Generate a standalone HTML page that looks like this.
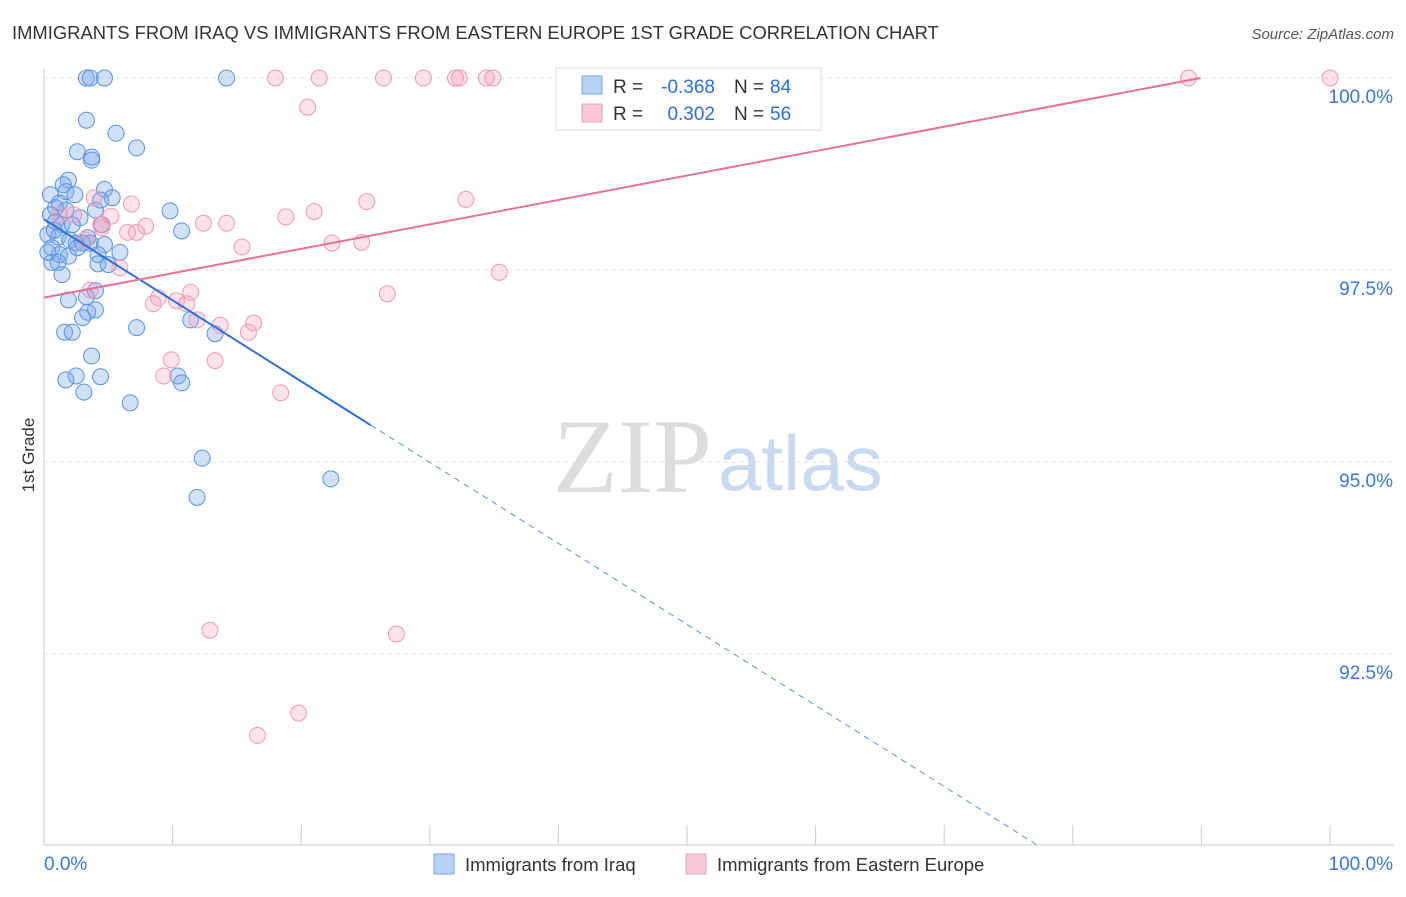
<!DOCTYPE html>
<html><head><meta charset="utf-8"><style>
body{margin:0;background:#fff;font-family:"Liberation Sans",sans-serif}
</style></head><body>
<svg id="c" width="1406" height="892" xmlns="http://www.w3.org/2000/svg" font-family="Liberation Sans, sans-serif">
<text x="12" y="39" font-size="18.4" fill="#333">IMMIGRANTS FROM IRAQ VS IMMIGRANTS FROM EASTERN EUROPE 1ST GRADE CORRELATION CHART</text>
<text x="1394" y="39" font-size="15" fill="#555" font-style="italic" text-anchor="end">Source: ZipAtlas.com</text>
<text x="553" y="492" font-size="106" fill="#ddd" font-family="Liberation Serif, serif">ZIP</text>
<text x="718" y="490" font-size="78" fill="#c9d9ef">atlas</text>
<text transform="translate(34,455) rotate(-90)" font-size="17" fill="#333" text-anchor="middle">1st Grade</text>
<g id="grid"></g><g id="pts"></g><g id="lines"></g>
<g>
<rect x="556" y="68" width="265" height="62" fill="#fff" stroke="#ddd"/>
<rect x="582" y="76" width="20" height="18" fill="#b8d2f5" stroke="#7aa6e8"/>
<rect x="582" y="104" width="20" height="18" fill="#f9c8d8" stroke="#eea0ba"/>
<text x="613" y="93" font-size="19" fill="#333">R =</text>
<text x="715" y="93" font-size="19" fill="#2f6fd6" text-anchor="end">-0.368</text>
<text x="734" y="93" font-size="19" fill="#333">N =</text>
<text x="770" y="93" font-size="19" fill="#2f6fd6">84</text>
<text x="613" y="120" font-size="19" fill="#333">R =</text>
<text x="715" y="120" font-size="19" fill="#2f6fd6" text-anchor="end">0.302</text>
<text x="734" y="120" font-size="19" fill="#333">N =</text>
<text x="770" y="120" font-size="19" fill="#2f6fd6">56</text>
</g>
<g>
<rect x="434" y="854" width="20" height="20" fill="#b8d2f5" stroke="#7aa6e8"/>
<text x="465" y="871" font-size="18.5" fill="#333">Immigrants from Iraq</text>
<rect x="686" y="854" width="20" height="20" fill="#f9c8d8" stroke="#eea0ba"/>
<text x="717" y="871" font-size="18.5" fill="#333">Immigrants from Eastern Europe</text>
</g>
</svg>
<script>
const yTicks=[100,97.5,95,92.5];
const yTickLabels=["100.0%","97.5%","95.0%","92.5%"];
const blueX=[3.3,3.6,4.7,14.2,3.3,5.6,7.2,2.6,3.7,3.7,1.9,1.5,0.5,1.7,2.4,4.7,5.3,4.4,1.2,0.9,4.0,9.8,0.5,2.8,0.9,1.4,2.2,4.5,10.7,0.3,1.1,3.4,2.0,2.5,3.6,3.0,0.6,4.7,5.9,1.2,4.2,1.9,0.6,1.1,4.2,5.0,1.4,4.0,1.9,3.3,4.0,3.4,3.0,11.4,7.2,13.3,1.6,2.2,3.7,2.5,4.4,1.7,10.4,10.7,3.1,6.7,12.3,22.3,11.9,0.3,0.8,1.7,2.6];
const blueY=[100,100,100,100,99.45,99.28,99.09,99.04,98.97,98.93,98.67,98.61,98.48,98.52,98.48,98.55,98.44,98.41,98.37,98.31,98.28,98.27,98.22,98.18,98.13,98.09,98.09,98.09,98.01,97.96,97.93,97.92,97.89,97.85,97.85,97.85,97.79,97.83,97.73,97.70,97.70,97.68,97.60,97.60,97.58,97.57,97.44,97.23,97.11,97.15,96.98,96.95,96.88,96.85,96.75,96.67,96.69,96.69,96.38,96.12,96.11,96.07,96.12,96.03,95.91,95.77,95.05,94.78,94.54,97.73,98.02,98.28,97.79];
const pinkX=[18.0,21.4,26.4,29.5,32.0,32.3,34.4,34.9,89.0,100,20.5,3.9,6.8,32.8,25.1,21.0,18.8,5.2,2.3,12.4,14.2,7.9,7.2,4.5,15.4,22.4,24.7,6.5,5.9,35.4,26.7,11.4,8.9,8.5,10.3,11.1,11.9,13.7,16.3,15.9,9.9,13.3,9.3,18.4,12.9,27.4,19.8,16.6,4.4,1.2,3.6,3.2];
const pinkY=[100,100,100,100,100,100,100,100,100,100,99.62,98.44,98.36,98.42,98.39,98.26,98.19,98.20,98.22,98.11,98.11,98.07,97.99,98.05,97.80,97.85,97.86,97.99,97.53,97.47,97.19,97.21,97.14,97.06,97.10,97.06,96.85,96.78,96.81,96.69,96.33,96.32,96.12,95.90,92.81,92.76,91.73,91.44,98.09,98.22,97.24,97.89];
const blueTrend=[98.16,-0.1055]; // intercept, slope
const pinkTrend=[97.14,0.0318];
const xs=v=>44+v*12.86, ys=v=>78+(100-v)*76.8;
const NS="http://www.w3.org/2000/svg";
function mk(t,a,p){const e=document.createElementNS(NS,t);for(const k in a)e.setAttribute(k,a[k]);p.appendChild(e);return e;}
const g=document.getElementById('grid');
mk('line',{x1:44,y1:68,x2:44,y2:845,stroke:'#ccc'},g);
mk('line',{x1:44,y1:845,x2:1394,y2:845,stroke:'#ccc'},g);
for(let i=0;i<=10;i++){mk('line',{x1:xs(i*10),y1:825,x2:xs(i*10),y2:845,stroke:'#ccc'},g);}
yTicks.forEach((t,i)=>{
 const l=mk('line',{x1:44,y1:ys(t),x2:1394,y2:ys(t),stroke:'#e3e3e3','stroke-dasharray':'4,4'},g);
 
 
 const tx=mk('text',{x:1393,y:ys(t)+25,'font-size':19,fill:'#3a78d8','text-anchor':'end'},g);
 tx.textContent=yTickLabels[i];
 
 
});
const x0=mk('text',{x:44,y:870,'font-size':19,fill:'#3a78d8'},g);x0.textContent='0.0%';


const x1=mk('text',{x:1393,y:870,'font-size':19,fill:'#3a78d8','text-anchor':'end'},g);x1.textContent='100.0%';


const P=document.getElementById('pts');
blueX.forEach((x,i)=>{const c=mk('circle',{cx:xs(x),cy:ys(blueY[i]),r:8,fill:'rgba(120,170,235,0.35)',stroke:'#5b93e0','stroke-width':1},P);
 
 });
pinkX.forEach((x,i)=>{const c=mk('circle',{cx:xs(x),cy:ys(pinkY[i]),r:8,fill:'rgba(245,160,190,0.3)',stroke:'#ee9ab6','stroke-width':1},P);
 
 });
const L=document.getElementById('lines');
const bf=x=>blueTrend[0]+blueTrend[1]*x, pf=x=>pinkTrend[0]+pinkTrend[1]*x;
const bl=mk('line',{x1:xs(0),y1:ys(bf(0)),x2:xs(25.4),y2:ys(bf(25.4)),stroke:'#2f6fd6','stroke-width':2},L);


const xe=(90.01-blueTrend[0])/blueTrend[1];
const bd=mk('line',{x1:xs(25.4),y1:ys(bf(25.4)),x2:xs(xe),y2:ys(bf(xe)),stroke:'#5b93e0','stroke-width':1,'stroke-dasharray':'6,5'},L);


const pe=(100-pinkTrend[0])/pinkTrend[1];
const pl=mk('line',{x1:xs(0),y1:ys(pf(0)),x2:xs(pe),y2:ys(pf(pe)),stroke:'#e8709a','stroke-width':2},L);


</script>
</body></html>
